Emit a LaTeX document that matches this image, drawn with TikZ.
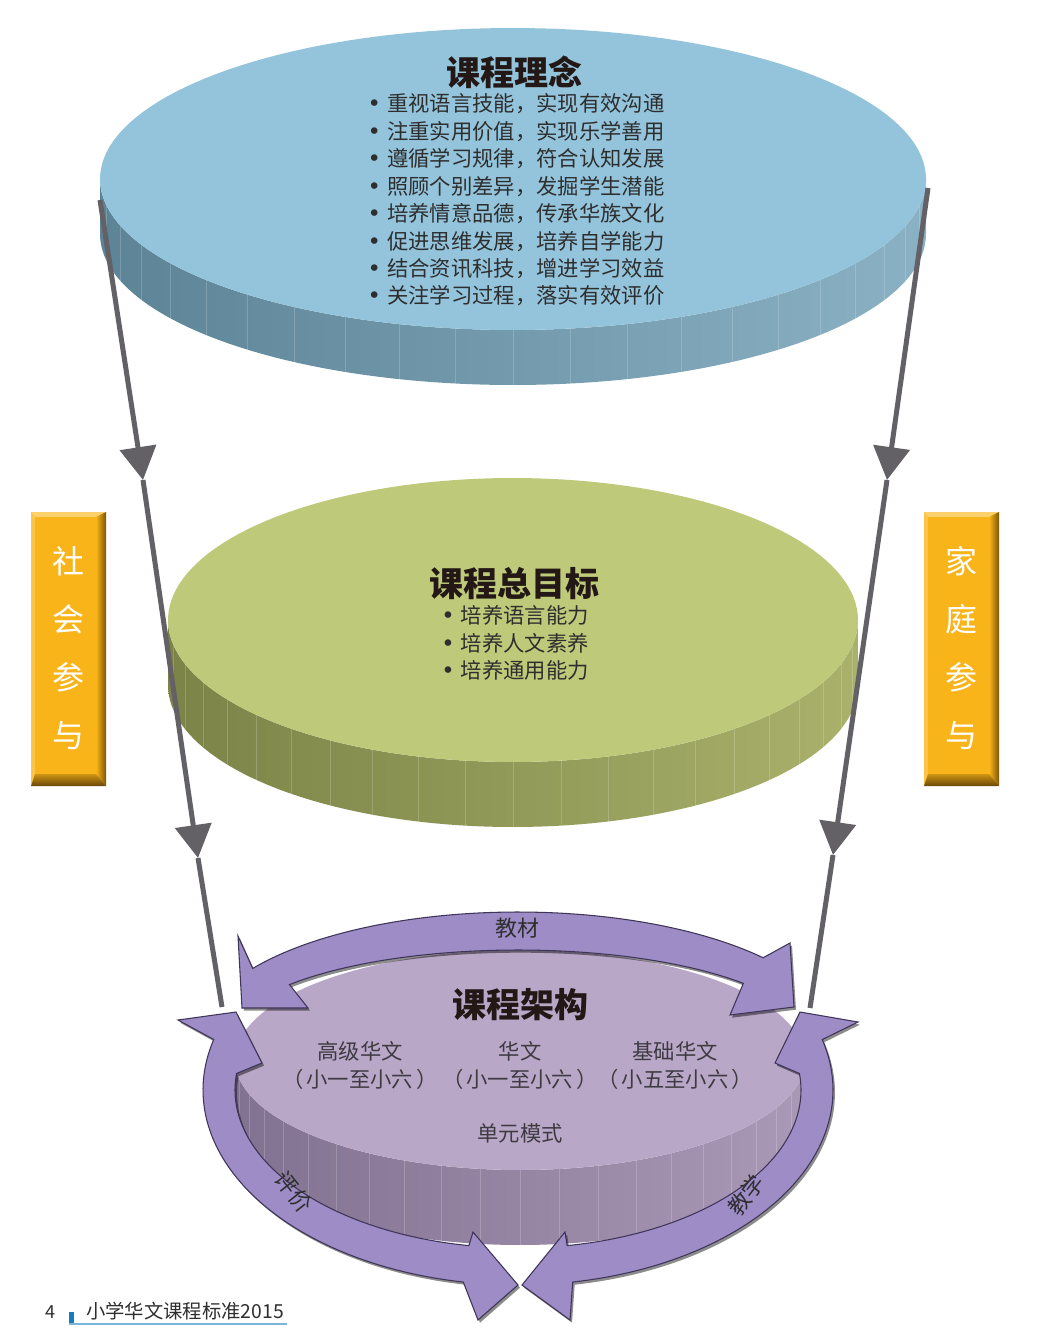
\documentclass[tikz,border=0pt]{standalone}
\usepackage{fontspec}
\setmainfont{Noto Sans CJK SC}
\newfontfamily\dejavu{DejaVu Sans}
\usetikzlibrary{arrows.meta,shadows}
\definecolor{connc}{HTML}{636166}
\definecolor{blueface}{HTML}{93C4DC}
\definecolor{blueL}{HTML}{5C8496}
\definecolor{blueR}{HTML}{8AB1C4}
\definecolor{greenface}{HTML}{BECA7A}
\definecolor{greenL}{HTML}{7B8347}
\definecolor{greenR}{HTML}{A9B16B}
\definecolor{purpface}{HTML}{B9A7C7}
\definecolor{purpL}{HTML}{827291}
\definecolor{purpR}{HTML}{A999B6}
\definecolor{ringc}{HTML}{9D8CC6}
\definecolor{ringd}{HTML}{3F3558}
\definecolor{boxc}{HTML}{F8B418}
\definecolor{boxlight}{HTML}{FCD06A}
\definecolor{boxdark}{HTML}{7E560A}
\definecolor{boxdarkb}{HTML}{6A4708}
\definecolor{titlec}{HTML}{231815}
\definecolor{bodyc}{HTML}{2E2E2E}
\definecolor{purpc}{HTML}{3E3A42}
\definecolor{footblue}{HTML}{1A7CC0}
\definecolor{footline}{HTML}{7AB6D8}
\newcommand\mybevelbox[4]{%
  \fill[boxc] (#1,#2) rectangle (#3,#4);
  \fill[boxlight] (#1,#2) -- (#3,#2) -- ({#3-10},{#2+5}) -- ({#1+4},{#2+5}) -- cycle;
  \fill[boxlight!60!boxc] (#1,#2) -- ({#1+4},{#2+5}) -- ({#1+4},{#4-12}) -- (#1,#4) -- cycle;
  \shade[left color=boxc, right color=boxdark] (#3,#2) -- (#3,#4) -- ({#3-10},{#4-12}) -- ({#3-10},{#2+5}) -- cycle;
  \shade[top color=boxc!70!boxdarkb, bottom color=boxdarkb] (#1,#4) -- (#3,#4) -- ({#3-10},{#4-12}) -- ({#1+4},{#4-12}) -- cycle;
}
\newcommand\mybul{{\dejavu\fontsize{17}{20}\selectfont •}\hspace{4.5pt}}
\newcommand\myparen[1]{（\hspace{2.5pt}#1\hspace{2.5pt}）}
\begin{document}
\begin{tikzpicture}[x=0.75pt,y=-0.75pt,
  conn/.style={draw=connc, line width=3.75pt},
  facet/.style={draw=white, opacity=0.18, line width=0.5pt},
  titletext/.style={font=\fontsize{25.5}{30}\selectfont\bfseries, text=titlec, inner sep=0pt},
  bodytext/.style={font=\fontsize{16}{20.55}\selectfont, text=bodyc, inner sep=0pt, align=left},
  purptext/.style={font=\fontsize{16}{21}\selectfont, text=purpc, inner sep=0pt, align=center},
  boxtext/.style={font=\fontsize{24}{43.5}\selectfont, text=white, inner sep=0pt, align=center},
  ringlabel/.style={font=\fontsize{16.5}{20}\selectfont, text=bodyc, inner sep=0pt},
  ringarrow/.style={fill=ringc, draw=ringd, line width=0.8pt,
     drop shadow={shadow xshift=1.5pt, shadow yshift=-2pt, opacity=0.45, fill=black}},
]
\useasboundingbox (0,0) rectangle (1039,1332);
\fill[white] (0,0) rectangle (1039,1332);

% ---------- top disc ----------
\shade[left color=blueL, right color=blueR]
  plot[domain=0:180, samples=90, variable=\t] ({513+413*cos(\t)},{179+151*sin(\t)})
  -- plot[domain=180:0, samples=90, variable=\t] ({513+413*cos(\t)},{234+151*sin(\t)}) -- cycle;
\foreach \t in {10,18,...,170} \draw[facet] ({513+413*cos(\t)},{179+151*sin(\t)}) -- ++(0,55);
\fill[blueface] plot[domain=0:360, samples=160, variable=\t] ({513+413*cos(\t)},{179+151*sin(\t)}) -- cycle;

% ---------- green disc ----------
\shade[left color=greenL, right color=greenR]
  plot[domain=0:180, samples=90, variable=\t] ({513+345*cos(\t)},{620+142*sin(\t)})
  -- plot[domain=180:0, samples=90, variable=\t] ({513+345*cos(\t)},{685+142*sin(\t)}) -- cycle;
\foreach \t in {10,18,...,170} \draw[facet] ({513+345*cos(\t)},{620+142*sin(\t)}) -- ++(0,65);
\fill[greenface] plot[domain=0:360, samples=160, variable=\t] ({513+345*cos(\t)},{620+142*sin(\t)}) -- cycle;

% ---------- connectors ----------
\coordinate (L0) at (100,200);
\coordinate (L1) at (143,480);
\coordinate (L2) at (198,858);
\coordinate (L3) at (222,1007);
\coordinate (R0) at (928,188);
\coordinate (R1) at (887,480);
\coordinate (R2) at (833,855);
\coordinate (R3) at (810,1008);
\draw[conn, -{Triangle[length=24.75pt,width=27pt]}] (L0) -- (L1);
\draw[conn, -{Triangle[length=24.75pt,width=27pt]}] (L1) -- (L2);
\draw[conn] (L2) -- (L3);
\draw[conn, -{Triangle[length=24.75pt,width=27pt]}] (R0) -- (R1);
\draw[conn, -{Triangle[length=24.75pt,width=27pt]}] (R1) -- (R2);
\draw[conn] (R2) -- (R3);

% ---------- purple disc ----------
\shade[left color=purpL, right color=purpR]
  plot[domain=0:180, samples=90, variable=\t] ({520+285*cos(\t)},{1060+110*sin(\t)})
  -- plot[domain=180:0, samples=90, variable=\t] ({520+285*cos(\t)},{1135+110*sin(\t)}) -- cycle;
\foreach \t in {10,18,...,170} \draw[facet] ({520+285*cos(\t)},{1060+110*sin(\t)}) -- ++(0,75);
\fill[purpface] plot[domain=0:360, samples=160, variable=\t] ({520+285*cos(\t)},{1060+110*sin(\t)}) -- cycle;

% ---------- ring arrows ----------
\path[ringarrow]
  plot[domain=214:320, samples=60, variable=\t] ({518+320*cos(\t)},{1040+128*sin(\t)})
  -- (790,943) -- (794,1007) -- (730,1015)
  -- plot[domain=321:218, samples=60, variable=\t] ({518+290*cos(\t)},{1040+90*sin(\t)})
  -- (308,1008) -- (242,1008) -- (238,936) -- cycle;
\path[ringarrow]
  (178,1020) -- (236,1012) -- (262,1063)
  -- plot[domain=186:100, samples=60, variable=\t] ({518+283*cos(\t)},{1090+158*sin(\t)})
  -- (473,1232) -- (518,1285) -- (478,1320)
  -- plot[domain=100:195, samples=60, variable=\t] ({518+315*cos(\t)},{1090+195*sin(\t)}) -- cycle;
\path[ringarrow]
  (858,1022) -- (800,1012) -- (775,1063)
  -- plot[domain=-6:80, samples=60, variable=\t] ({518+283*cos(\t)},{1090+158*sin(\t)})
  -- (565,1232) -- (522,1285) -- (570,1320)
  -- plot[domain=80:-15, samples=60, variable=\t] ({518+315*cos(\t)},{1090+195*sin(\t)}) -- cycle;

% ---------- side boxes ----------
\mybevelbox{31}{512}{106}{786}
\mybevelbox{924}{512}{999}{786}
\node[boxtext] (sh) at (68.5,648) {社\\会\\参\\与};
\node[boxtext] (jt) at (961.5,648) {家\\庭\\参\\与};

% ---------- texts ----------
\node[titletext] (t1) at (514,72) {课程理念};
\node[bodytext] (b1) at (516,200) {\mybul 重视语言技能，实现有效沟通\\
\mybul 注重实用价值，实现乐学善用\\
\mybul 遵循学习规律，符合认知发展\\
\mybul 照顾个别差异，发掘学生潜能\\
\mybul 培养情意品德，传承华族文化\\
\mybul 促进思维发展，培养自学能力\\
\mybul 结合资讯科技，增进学习效益\\
\mybul 关注学习过程，落实有效评价};

\node[titletext] (t2) at (514,584) {课程总目标};
\node[bodytext] (b2) at (515,643) {\mybul 培养语言能力\\
\mybul 培养人文素养\\
\mybul 培养通用能力};

\node[titletext] (t3) at (520,1005) {课程架构};
\node[purptext] (c1) at (360,1065) {高级华文\\\myparen{小一至小六}};
\node[purptext] (c2) at (520,1065) {华文\\\myparen{小一至小六}};
\node[purptext] (c3) at (675,1065) {基础华文\\\myparen{小五至小六}};
\node[purptext] (c4) at (520,1133) {单元模式};

\node[ringlabel] (r1) at (517,928) {教材};
\node[ringlabel, rotate=-52] (r2) at (294,1192) {评价};
\node[ringlabel, rotate=52] (r3) at (746,1195) {教学};

% ---------- footer ----------
\node[font=\fontsize{13.5}{16}\selectfont, text=bodyc, inner sep=0pt] (pg) at (50,1312) {4};
\fill[footblue] (69,1312) rectangle (74,1323);
\draw[footline, line width=0.9pt] (69,1324) -- (287,1324);
\node[anchor=west, font=\fontsize{14.5}{17}\selectfont, text=bodyc, inner sep=0pt] (ft) at (86,1311) {小学华文课程标准2015};
\end{tikzpicture}
\end{document}
